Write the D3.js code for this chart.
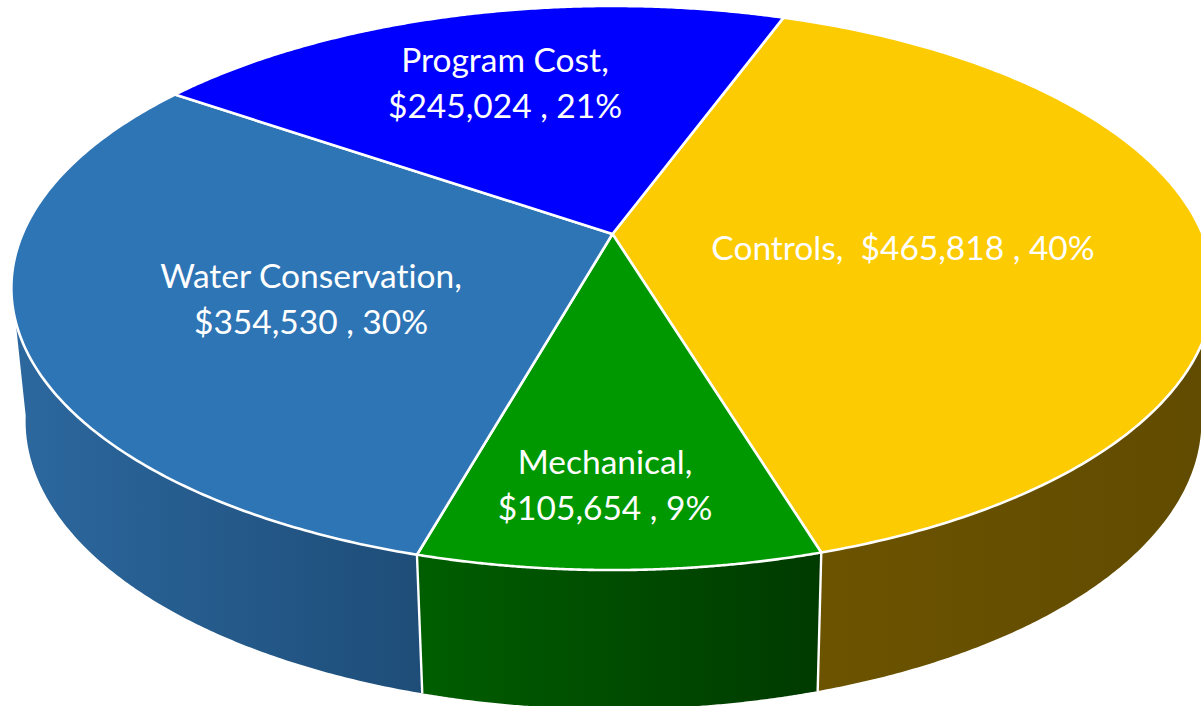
<!DOCTYPE html>
<html><head><meta charset="utf-8">
<script src="https://cdn.jsdelivr.net/npm/d3@7"></script>
<style>html,body{margin:0;padding:0;background:#fff;overflow:hidden}svg{display:block}
text{font-family:Lato,"Open Sans",sans-serif;fill:#fff;white-space:pre;font-variant-ligatures:none}</style>
</head><body><svg id="c" width="1201" height="706"></svg>
<script>
const categories = ["Controls","Mechanical","Water Conservation","Program Cost"];
const amounts = [465818,105654,354530,245024];
const topColors = ["#fccb02","#009800","#2e75b6","#0000ff"];
const sideLeft = ["#6b5300","#005e00","#2c689f",null];
const sideRight = ["#614b00","#003a00","#1e4d78",null];
const labelLines = [
  d => [`${d.name},  ${d.money} , ${d.pct}`],
  d => [`${d.name},`,`${d.money} , ${d.pct}`],
  d => [`${d.name},`,`${d.money} , ${d.pct}`],
  d => [`${d.name},`,`${d.money} , ${d.pct}`]
];
const labelAnchors = [[903,260],[605,474],[311,288],[505,72]];
const LINE = 46, FS = 33.5;

// projection of the disc into the picture (perspective ellipse)
const cx=612.5, cy=234, A=590, B=271.7, k=0.1915;
const botS=0.978, botYc=421, botYk=1.021, topYc=288, botDx=1;
const topPt = a => { const u=Math.sin(a), v=-Math.cos(a), w=1-k*v;
  return [cx+A*u/w, cy+B*v/w]; };
const botPt = a => { const p=topPt(a);
  return [cx+botDx+(p[0]-cx)*botS, botYc+(p[1]-topYc)*botYk]; };
const rad = d => d*Math.PI/180;
const arcSamples = (a0,a1,n=160) => d3.range(n+1).map(i=>a0+(a1-a0)*i/n);

const total = d3.sum(amounts);
const pie = d3.pie().sort(null).startAngle(rad(20)).endAngle(rad(380));
const arcs = pie(amounts);
const line = d3.line();
const svg = d3.select("#c"), defs = svg.append("defs");

// visible side range: front half of the rim
const sideMin = rad(100), sideMax = rad(260);
arcs.forEach((d,i)=>{
  if(!sideLeft[i]) return;
  const a0=Math.max(d.startAngle,sideMin), a1=Math.min(d.endAngle,sideMax);
  const s=arcSamples(a0,a1);
  const pts=s.map(topPt).concat(s.slice().reverse().map(botPt));
  const xs=pts.map(p=>p[0]);
  const g=defs.append("linearGradient").attr("id","g"+i).attr("gradientUnits","userSpaceOnUse")
    .attr("x1",d3.min(xs)).attr("x2",d3.max(xs)).attr("y1",0).attr("y2",0);
  g.append("stop").attr("offset",0).attr("stop-color",sideLeft[i]);
  g.append("stop").attr("offset",1).attr("stop-color",sideRight[i]);
  svg.append("path").attr("d",line(pts)+"Z").attr("fill",`url(#g${i})`);
});
// separators on the side wall
arcs.forEach((d,i)=>{
  const a=d.endAngle;
  if(a>sideMin && a<sideMax)
    svg.append("path").attr("d",line([topPt(a),botPt(a)])).attr("stroke","#fff").attr("stroke-width",2.4).attr("fill","none");
});
// top face
arcs.forEach((d,i)=>{
  const pts=[[cx,cy]].concat(arcSamples(d.startAngle,d.endAngle,200).map(topPt));
  svg.append("path").attr("d",line(pts)+"Z").attr("fill",topColors[i])
    .attr("stroke","#fff").attr("stroke-width",2.6).attr("stroke-linejoin","round");
});
// labels
const money=d3.format("$,"), pct=d3.format(".0%");
arcs.forEach((d,i)=>{
  const info={name:categories[i],money:money(amounts[i]),pct:pct(amounts[i]/total)};
  labelLines[i](info).forEach((t,j)=>{
    svg.append("text").attr("x",labelAnchors[i][0]).attr("y",labelAnchors[i][1]+j*LINE)
      .attr("text-anchor","middle").attr("font-size",FS).text(t);
  });
});
</script></body></html>
